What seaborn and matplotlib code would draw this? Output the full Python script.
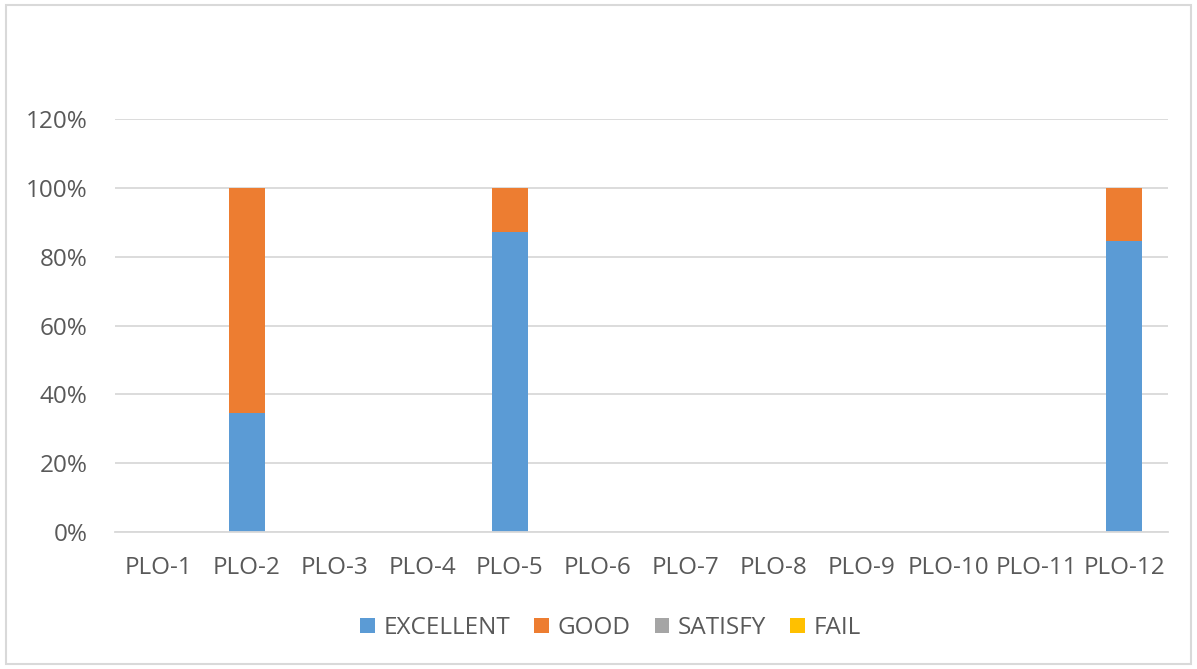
import numpy as np
import pandas as pd
import matplotlib
matplotlib.use("Agg")
import matplotlib.pyplot as plt
import seaborn as sns
from matplotlib.patches import Patch, Rectangle

plos = ["PLO-1", "PLO-2", "PLO-3", "PLO-4", "PLO-5", "PLO-6",
        "PLO-7", "PLO-8", "PLO-9", "PLO-10", "PLO-11", "PLO-12"]
excellent = [0, 0.345, 0, 0, 0.873, 0, 0, 0, 0, 0, 0, 0.845]
good = [0, 0.655, 0, 0, 0.127, 0, 0, 0, 0, 0, 0, 0.155]
satisfy = [0] * 12
fail = [0] * 12

series = ["EXCELLENT", "GOOD", "SATISFY", "FAIL"]
colors = ["#5b9bd5", "#ed7d31", "#a5a5a5", "#ffc000"]

sns.set_theme(style="white")
plt.rcParams["font.family"] = ["Open Sans", "DejaVu Sans"]
text_col = "#595959"
fs = 17.5

df = pd.DataFrame({"plo": plos, "EXCELLENT": excellent, "GOOD": good,
                   "SATISFY": satisfy, "FAIL": fail})
# cumulative tops for stacking, drawn from the top layer down
cum = df[series].cumsum(axis=1)

fig = plt.figure(figsize=(11.97, 6.69), dpi=100)
fig.patches.append(Rectangle((0.005, 0.008), 0.99, 0.984, transform=fig.transFigure,
                             fill=False, edgecolor="#d9d9d9", linewidth=1.5))
ax = fig.add_axes([0.096, 0.2048, 0.880, 0.617])

for name, col in reversed(list(zip(series, colors))):
    sns.barplot(x=df["plo"], y=cum[name], color=col, width=0.41,
                saturation=1, ax=ax, zorder=2, order=plos, linewidth=0)

ax.set_ylim(0, 1.2)
ax.set_yticks(np.arange(0, 1.21, 0.2))
ax.set_yticklabels([f"{int(round(v * 100))}%" for v in np.arange(0, 1.21, 0.2)])
ax.set_xlim(-0.5, 11.5)
ax.grid(axis="y", color="#d9d9d9", linewidth=1.3, zorder=0)
ax.set_axisbelow(True)
for s in ["top", "right", "left"]:
    ax.spines[s].set_visible(False)
ax.spines["bottom"].set_color("#d9d9d9")
ax.spines["bottom"].set_linewidth(1.3)
ax.tick_params(axis="both", length=0, labelsize=fs, colors=text_col)
ax.tick_params(axis="x", pad=17)
ax.tick_params(axis="y", pad=19.5)
ax.set_xlabel("")
ax.set_ylabel("")

handles = [Patch(facecolor=c, edgecolor="none", label=s) for s, c in zip(series, colors)]
leg = fig.legend(handles=handles, loc="center", bbox_to_anchor=(0.51, 0.061), ncol=4,
                 frameon=False, fontsize=fs, handlelength=0.6, handleheight=0.6,
                 handletextpad=0.35, columnspacing=1.0)
for t in leg.get_texts():
    t.set_color(text_col)

fig.savefig("out.png", dpi=100)
